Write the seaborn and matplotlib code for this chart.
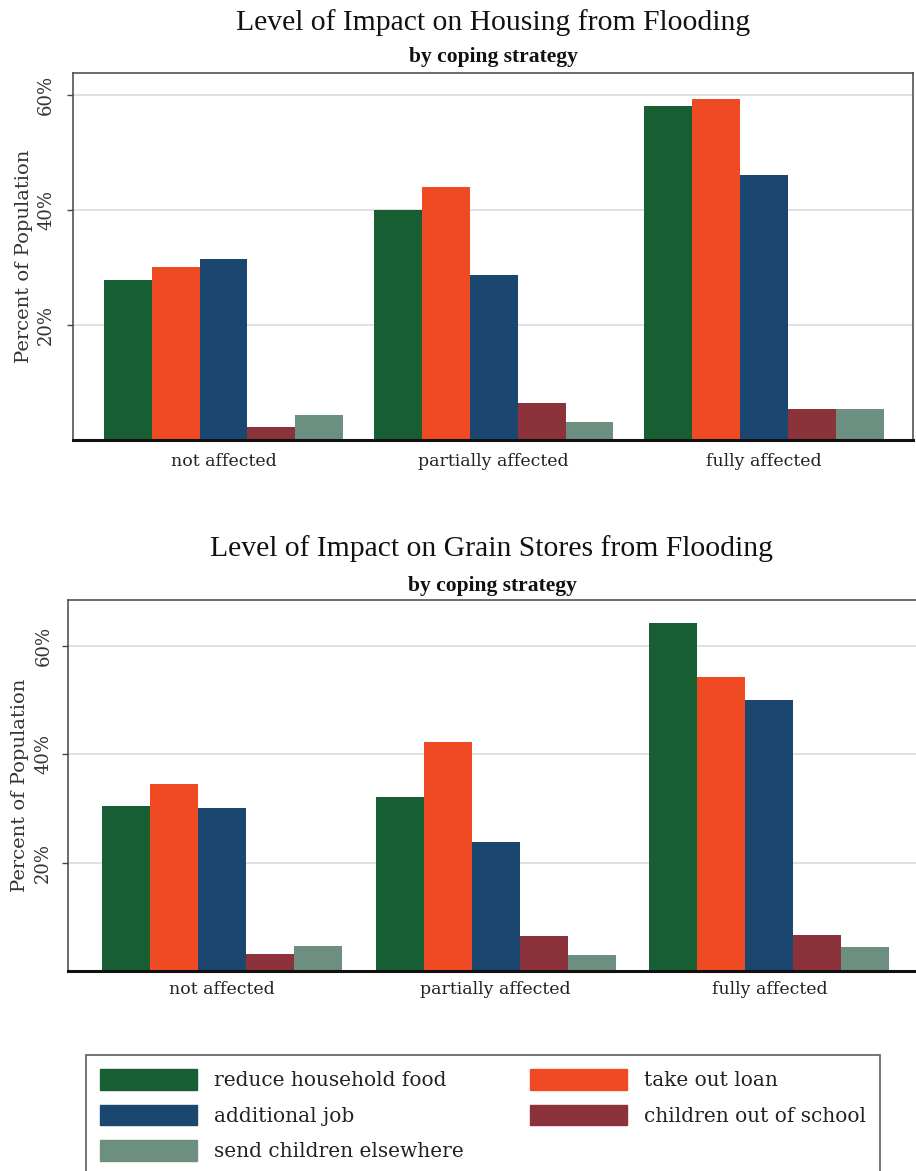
import numpy as np
import pandas as pd
import matplotlib
matplotlib.use("Agg")
import matplotlib.pyplot as plt
import seaborn as sns
from matplotlib.patches import Patch

# ---- data ----
impact = ["not affected", "partially affected", "fully affected"]
strategies = ["reduce household food", "take out loan", "additional job",
              "children out of school", "send children elsewhere"]
colors = ["#175f33", "#ef4a23", "#1b4670", "#8c323a", "#6d8f80"]

housing_food = [27.8, 39.9, 58.1]
housing_loan = [30.1, 43.9, 59.3]
housing_job = [31.5, 28.6, 46.0]
housing_school = [2.3, 6.4, 5.4]
housing_elsewhere = [4.3, 3.2, 5.4]

grain_food = [30.4, 32.1, 64.2]
grain_loan = [34.5, 42.3, 54.2]
grain_job = [30.1, 23.8, 49.9]
grain_school = [3.2, 6.4, 6.6]
grain_elsewhere = [4.7, 3.0, 4.4]

yticks = [20, 40, 60]
ytick_labels = ["20%", "40%", "60%"]


def long_df(series):
    rows = []
    for strat, vals in zip(strategies, series):
        for cat, v in zip(impact, vals):
            rows.append({"impact": cat, "strategy": strat, "pct": v})
    return pd.DataFrame(rows)


df_h = long_df([housing_food, housing_loan, housing_job, housing_school, housing_elsewhere])
df_g = long_df([grain_food, grain_loan, grain_job, grain_school, grain_elsewhere])

sns.set_theme(style="white")
plt.rcParams["font.family"] = ["Liberation Serif", "DejaVu Serif"]

W, H = 916, 1171
fig = plt.figure(figsize=(W / 100, H / 100), dpi=100)


def px_axes(left, top, right, bottom):
    return fig.add_axes([left / W, 1 - bottom / H, (right - left) / W, (bottom - top) / H])


ax1 = px_axes(73, 73, 913, 440)
ax2 = px_axes(68, 600, 920, 971)

palette = dict(zip(strategies, colors))
SERIF2 = ["DejaVu Serif"]


def draw(ax, df, ytop, ypad, xpad, ylab_x, xlim, width, right_spine=True):
    ax.set_axisbelow(True)
    for y in yticks:
        ax.axhline(y, color="#dedede", lw=1.3, zorder=0)
    sns.barplot(data=df, x="impact", y="pct", hue="strategy", hue_order=strategies,
                order=impact, palette=palette, width=width, saturation=1,
                legend=False, ax=ax, errorbar=None, linewidth=0)
    ax.set_xlim(*xlim)
    ax.set_ylim(0, ytop)
    ax.set_yticks(yticks)
    ax.set_yticklabels(ytick_labels, rotation=90, va="center",
                       family=SERIF2, fontsize=13, color="#333333")
    ax.tick_params(axis="y", length=6 * 0.72, width=1.0, color="#444444",
                   pad=ypad, left=True, direction="out")
    ax.tick_params(axis="x", length=0, pad=xpad)
    for lab in ax.get_xticklabels():
        lab.set_family(SERIF2)
        lab.set_fontsize(12.5)
        lab.set_color("#222222")
    ax.set_xlabel("")
    ax.set_ylabel("Percent of Population", family=SERIF2, fontsize=14,
                  color="#333333")
    ax.yaxis.set_label_coords(ylab_x, 0.5)
    for s in ["left", "top", "right"]:
        ax.spines[s].set_color("#444444")
        ax.spines[s].set_linewidth(1.1)
    ax.spines["right"].set_visible(right_spine)
    ax.spines["bottom"].set_color("#111111")
    ax.spines["bottom"].set_linewidth(2.2)
    ax.grid(False)


draw(ax1, df_h, 63.8, 8.5, 9, -0.0476, (-0.557, 2.551), 0.885)
draw(ax2, df_g, 68.4, 7, 7, -0.0458, (-0.563, 2.55), 0.877, right_spine=False)

fig.text(493 / W, 1 - 23 / H, "Level of Impact on Housing from Flooding",
         ha="center", va="center", fontsize=21.3, color="#111111")
fig.text(493 / W, 1 - 57 / H, "by coping strategy",
         ha="center", va="center", fontsize=15.5, fontweight="bold", color="#111111")
fig.text(492 / W, 1 - 549 / H, "Level of Impact on Grain Stores from Flooding",
         ha="center", va="center", fontsize=21.3, color="#111111")
fig.text(492 / W, 1 - 586 / H, "by coping strategy",
         ha="center", va="center", fontsize=15.5, fontweight="bold", color="#111111")

order = [0, 2, 4, 1, 3]
handles = [Patch(facecolor=colors[i], edgecolor=colors[i]) for i in order]
labels = [strategies[i] for i in order]
leg = fig.legend(handles, labels, loc="upper left",
                 bbox_to_anchor=(86 / W, 1 - 1055 / H), ncol=2,
                 prop={"family": SERIF2, "size": 14.5},
                 handlelength=4.8, handleheight=1.2,
                 handletextpad=0.85, columnspacing=3.3, labelspacing=0.72,
                 borderpad=0.7, borderaxespad=0, frameon=True, fancybox=False)
leg.get_frame().set_edgecolor("#333333")
leg.get_frame().set_linewidth(1.2)
for t in leg.get_texts():
    t.set_color("#222222")

fig.savefig("out.png", dpi=100)
